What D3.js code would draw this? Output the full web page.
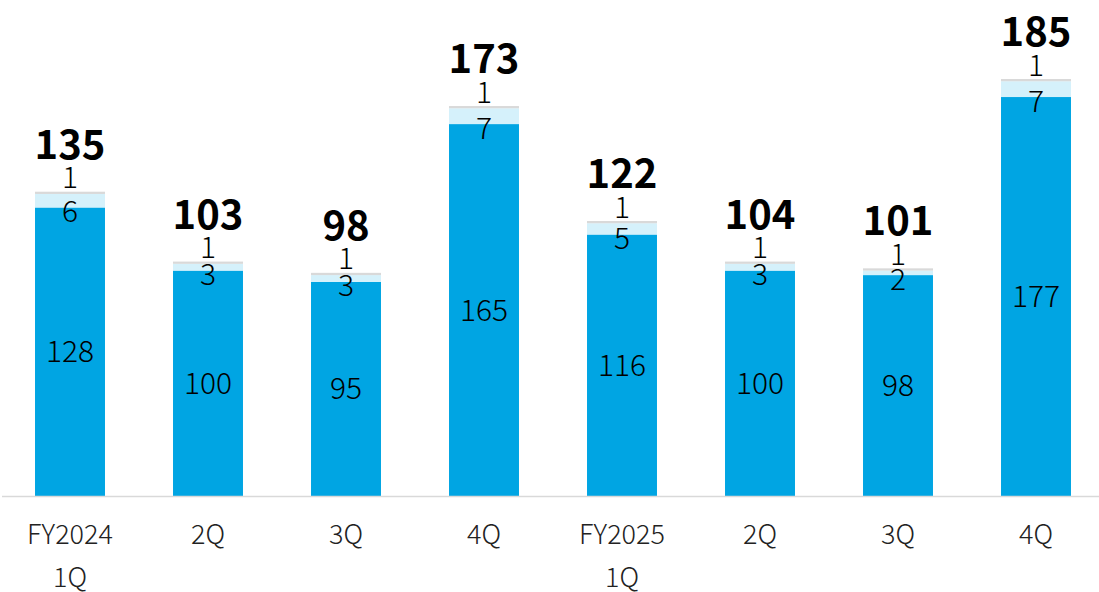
<!DOCTYPE html>
<html><head><meta charset="utf-8">
<script src="https://cdn.jsdelivr.net/npm/d3@7"></script>
<style>body{margin:0;background:#fff}svg{display:block}text{font-family:"Noto Sans CJK JP","Noto Sans",sans-serif}</style>
</head><body><svg id="c" width="1099" height="592"></svg>
<script>
const categories = [["FY2024","1Q"],["2Q"],["3Q"],["4Q"],["FY2025","1Q"],["2Q"],["3Q"],["4Q"]];
const mainValues = [128,100,95,165,116,100,98,177];
const midValues = [6,3,3,7,5,3,2,7];
const topValues = [1,1,1,1,1,1,1,1];
const totals = [135,103,98,173,122,104,101,185];
const colors = ["#00a5e3","#d5f1fb","#d9d9d9"];

const svg = d3.select("#c");
const baseY = 496;
const x = d3.scaleBand().domain(d3.range(categories.length)).range([1,1105]).paddingInner(0.493).paddingOuter(0.2465);
const y = d3.scaleLinear().domain([0,185]).range([baseY, baseY-417]);

const rows = categories.map((c,i)=>({i, m:mainValues[i], l:midValues[i], t:topValues[i], total:totals[i]}));
const stack = d3.stack().keys(["m","l","t"])(rows);

svg.append("g").selectAll("g").data(stack).join("g").attr("fill",(d,k)=>colors[k])
  .selectAll("rect").data(d=>d).join("rect")
  .attr("x",d=>x(d.data.i)).attr("width",x.bandwidth())
  .attr("y",d=>y(d[1])).attr("height",d=>y(d[0])-y(d[1]));

// axis line
svg.append("line").attr("x1",2).attr("x2",1099).attr("y1",baseY+0.5).attr("y2",baseY+0.5).attr("stroke","#d9d9d9").attr("stroke-width",1.5);

const cx = i => x(i)+x.bandwidth()/2;
const g = svg.append("g").attr("text-anchor","middle").attr("fill","#000").attr("font-weight",300);
// main labels
g.selectAll(".ml").data(stack[0]).join("text").attr("x",d=>cx(d.data.i)).attr("y",d=>(y(d[0])+y(d[1]))/2).attr("dy","0.35em").attr("font-size",30).text(d=>d.data.m);
// mid labels
g.selectAll(".ll").data(stack[1]).join("text").attr("x",d=>cx(d.data.i)).attr("y",d=>y(d[0])+4).attr("dy","0.35em").attr("font-size",30).text(d=>d.data.l);
// top labels
g.selectAll(".tl").data(stack[2]).join("text").attr("x",d=>cx(d.data.i)).attr("y",d=>y(d[1])-14).attr("dy","0.35em").attr("font-size",30).text(d=>d.data.t);
// totals
g.selectAll(".tot").data(stack[2]).join("text").attr("x",d=>cx(d.data.i)).attr("y",d=>y(d[1])-33).attr("font-size",40).attr("font-weight","bold").text(d=>d.data.total);

// category labels
const cl = svg.append("g").attr("text-anchor","middle").attr("fill","#222").attr("font-weight",300);
categories.forEach((c,i)=>{
  c.forEach((s,j)=>{
    cl.append("text").attr("x",cx(i)).attr("y",535+j*43).attr("dy","0.35em").attr("font-size",27).text(s);
  });
});
</script></body></html>
